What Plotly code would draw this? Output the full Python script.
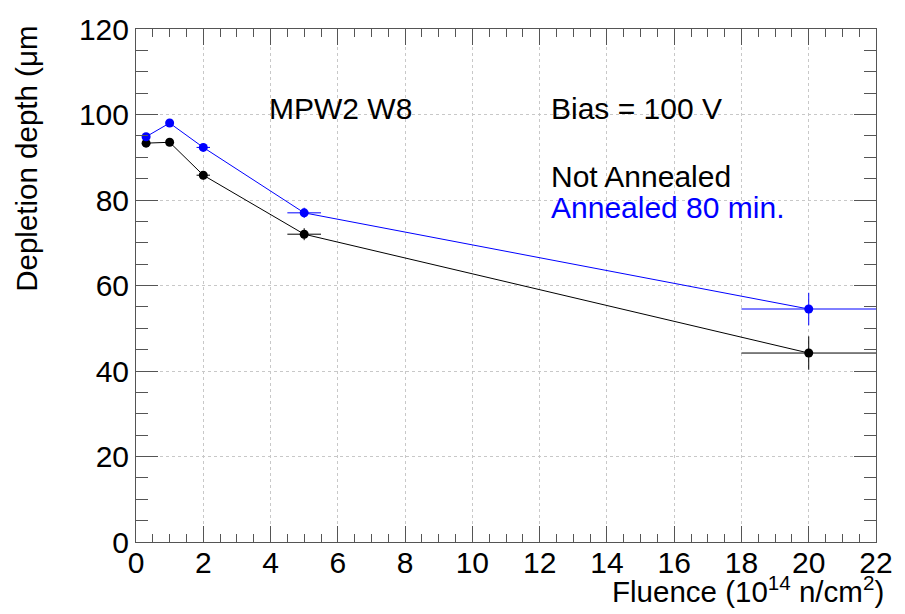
import plotly.graph_objects as go

# Data
fluence = [0.3, 1, 2, 5, 20]
fluence_err = [0.1, 0.1, 0.2, 0.5, 2.0]
depth_not_annealed = [93.3, 93.5, 85.8, 72.0, 44.2]
depth_not_annealed_err = [0.8, 0.8, 1.0, 1.4, 3.9]
depth_annealed = [94.8, 98.0, 92.3, 77.0, 54.5]
depth_annealed_err = [0.8, 0.8, 0.8, 1.2, 3.8]

x_ticks = [0, 2, 4, 6, 8, 10, 12, 14, 16, 18, 20, 22]
y_ticks = [0, 20, 40, 60, 80, 100, 120]

FONT = "Liberation Sans, Arial, Helvetica, sans-serif"
FS = 30
AXC = "#555555"

fig = go.Figure()

def add_series(y, yerr, color):
    fig.add_trace(go.Scatter(
        x=fluence, y=y, mode="lines+markers",
        line=dict(color=color, width=1),
        marker=dict(color=color, size=9, symbol="circle"),
        error_x=dict(type="data", array=fluence_err, width=0, thickness=1, color=color),
        error_y=dict(type="data", array=yerr, width=0, thickness=1, color=color),
        showlegend=False, cliponaxis=False,
    ))

add_series(depth_not_annealed, depth_not_annealed_err, "black")
add_series(depth_annealed, depth_annealed_err, "#0000ff")

common = dict(
    showline=True, linecolor=AXC, linewidth=1, mirror="allticks",
    ticks="inside", tickcolor=AXC, tickwidth=1,
    showgrid=True, gridcolor="#c8c8c8", griddash="dot", gridwidth=1,
    zeroline=False,
    tickfont=dict(family=FONT, size=FS, color="black"),
)

fig.update_xaxes(range=[0, 22], tickvals=x_ticks, ticklen=16, ticklabelstandoff=-6,
                 minor=dict(dtick=0.5, ticks="inside", ticklen=8, tickcolor=AXC, showgrid=False),
                 **common)
fig.update_yaxes(range=[0, 120], tickvals=y_ticks, ticklen=22,
                 minor=dict(dtick=5, ticks="inside", ticklen=12, tickcolor=AXC, showgrid=False),
                 **common)

ann = [
    dict(text="MPW2 W8", x=3.9, y=101.4, xanchor="left", yanchor="middle", color="black"),
    dict(text="Bias = 100 V", x=12.27, y=101.4, xanchor="left", yanchor="middle", color="black"),
    dict(text="Not Annealed", x=12.27, y=85.6, xanchor="left", yanchor="middle", color="black"),
    dict(text="Annealed 80 min.", x=12.27, y=78.3, xanchor="left", yanchor="middle", color="#0000ff"),
]
for a in ann:
    fig.add_annotation(x=a["x"], y=a["y"], xref="x", yref="y", text=a["text"],
                       xanchor=a["xanchor"], yanchor=a["yanchor"], showarrow=False,
                       font=dict(family=FONT, size=FS, color=a["color"]))

# Axis titles (ROOT style: right/top aligned)
fig.add_annotation(x=-0.148, y=0.748, xref="paper", yref="paper",
                   text="Depletion depth (μm", textangle=-90,
                   xanchor="center", yanchor="middle", showarrow=False,
                   font=dict(family=FONT, size=29.5, color="black"))
fig.add_annotation(x=1.013, y=-0.0923, xref="paper", yref="paper",
                   text="Fluence (10<sup>14</sup> n/cm<sup>2</sup>)",
                   xanchor="right", yanchor="middle", showarrow=False,
                   font=dict(family=FONT, size=29.5, color="black"))

fig.update_layout(
    width=905, height=614,
    margin=dict(l=136, r=23, t=21, b=72),
    paper_bgcolor="white", plot_bgcolor="white",
    font=dict(family=FONT, size=FS, color="black"),
)

fig.write_html("out.html")
